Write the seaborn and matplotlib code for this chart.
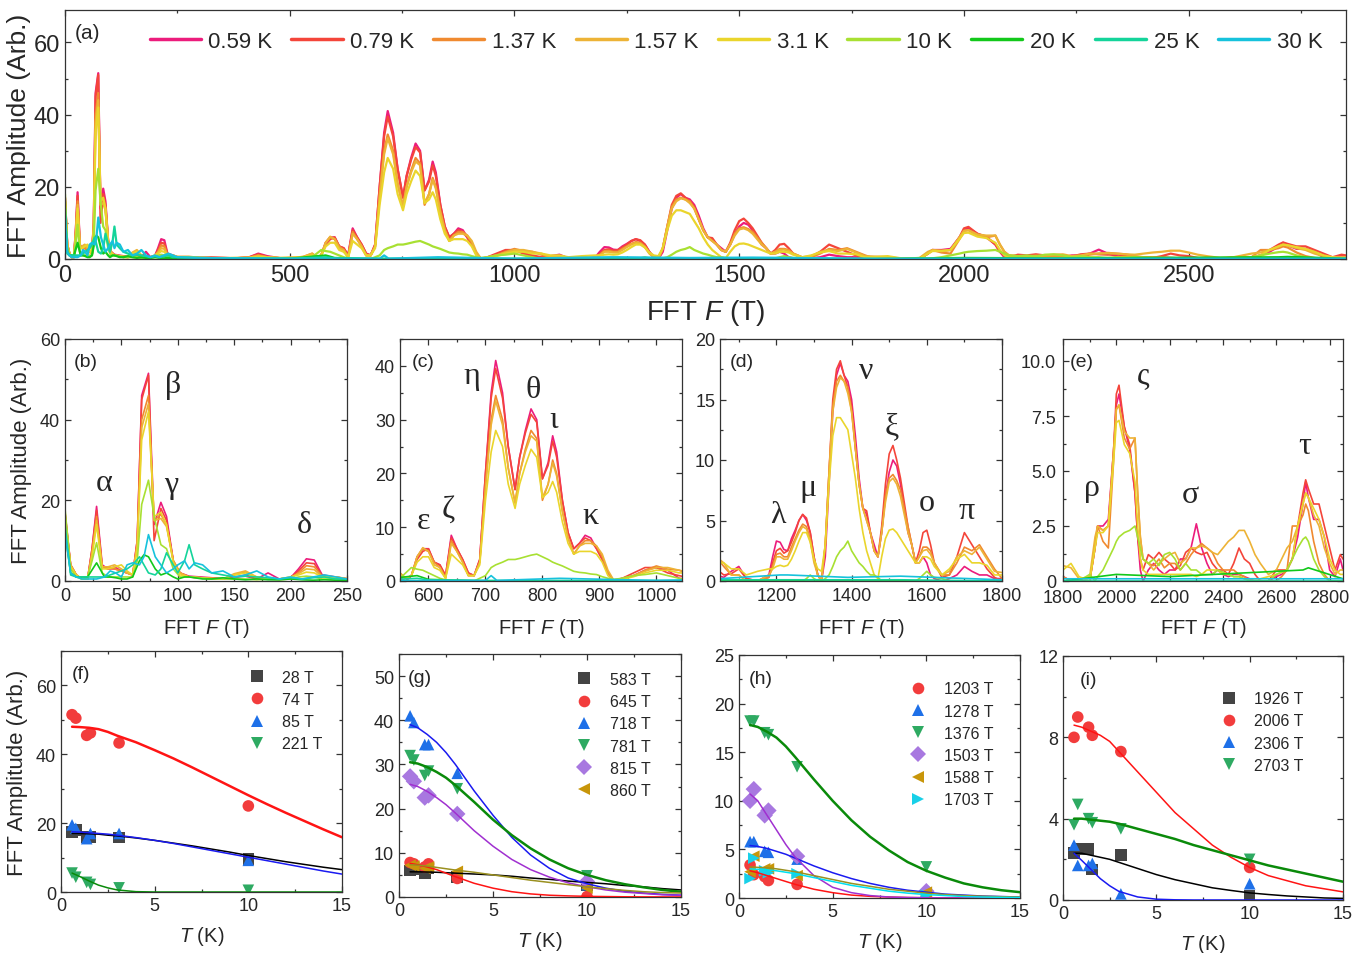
import numpy as np
import pandas as pd
import seaborn as sns
import matplotlib.pyplot as plt
from matplotlib.ticker import MultipleLocator, AutoMinorLocator, FuncFormatter

sns.set_theme(style="ticks")
plt.rcParams["font.family"] = ["Liberation Sans", "DejaVu Sans"]
plt.rcParams["mathtext.fontset"] = "custom"
plt.rcParams["mathtext.rm"] = "Liberation Sans"
plt.rcParams["mathtext.it"] = "Liberation Sans:italic"

# ---------------- spectra data ----------------
TEMPS = ["0.59 K", "0.79 K", "1.37 K", "1.57 K", "3.1 K", "10 K", "20 K", "25 K", "30 K"]
TEMP_COLORS = ["#EC1C7C", "#F4453A", "#F08A30", "#EDB336", "#EAD52C",
               "#A8E032", "#12C81A", "#14D49A", "#16C2DC"]

F_B = [0, 5, 10, 15, 20, 24, 28, 33, 38, 44, 50, 55, 60, 64, 68, 74, 79, 85, 90, 96, 102,
       110, 120, 130, 140, 150, 160, 170, 180, 190, 200, 207, 214, 221, 228, 240, 250]
F_GAP = [275, 300, 325, 350, 380, 410, 430, 450, 480, 510, 530]
F_C = [550, 560, 570, 580, 590, 600, 610, 620, 630, 640, 650, 660, 670, 680, 690, 700, 710,
       718, 730, 740, 752, 760, 770, 780, 790, 800, 810, 818, 825, 835, 845, 855, 865, 875,
       885, 895, 905, 915, 925, 940, 960, 980, 1000, 1020, 1040]
F_D = [1060, 1080, 1100, 1120, 1150, 1180] + list(range(1190, 1621, 10)) + \
      [1640, 1660, 1680, 1700, 1720, 1740, 1760, 1780]
F_E = [1800, 1830, 1860, 1900, 1920, 1930, 1950, 1970, 1990, 2000, 2010, 2030, 2050, 2070,
       2080, 2090, 2100] + list(range(2120, 2541, 20)) + \
      [2570, 2600, 2620, 2640, 2660, 2680, 2700, 2710, 2720, 2740, 2760, 2780, 2800, 2820,
       2840, 2850]

AMP_B = {
    "0.59 K": [17, 4, 1.5, 0.5, 0.5, 8, 18.5, 4, 3, 3.5, 2.5, 2, 1.5, 10, 46, 51.5, 14, 19.5, 16, 5, 2,
               1.2, 1, 0.8, 0.6, 1, 1.2, 0.5, 2, 0.5, 0.8, 3, 5.5, 5.2, 1.5, 1, 0.5],
    "0.79 K": [17, 4, 1.5, 0.5, 0.5, 8, 17.5, 3.5, 3, 3, 2.5, 2, 1.5, 10, 45, 51, 10, 18, 15, 5, 2,
               1, 0.8, 0.7, 0.5, 0.8, 1.5, 0.5, 0.5, 0.5, 0.8, 2.5, 4.5, 4.3, 1.3, 0.8, 0.5],
    "1.37 K": [16, 4, 1.5, 0.5, 0.5, 7, 16, 3.5, 3.5, 3, 2.5, 2, 1.5, 9, 40, 46, 15, 16.5, 14, 5, 2,
               1, 0.8, 0.7, 0.5, 1.5, 2.2, 0.8, 0.5, 0.5, 0.8, 2, 3.8, 3.5, 1.2, 1, 0.6],
    "1.57 K": [16, 4, 1.5, 0.5, 0.5, 7, 15, 3.5, 3.5, 4, 3, 2, 1.5, 9, 38, 44, 15, 15.5, 13.5, 5, 2,
               1, 0.8, 0.7, 0.5, 1.8, 2.5, 1, 0.5, 0.5, 1, 1.8, 3, 2.8, 1, 1, 0.6],
    "3.1 K": [16, 3.5, 1.5, 0.5, 0.5, 6, 14, 3, 3, 3.5, 4, 2.5, 1.5, 8, 35, 42, 16, 17, 14, 4.5, 1.5,
              1, 0.8, 0.5, 0.5, 1.5, 2, 1, 0.5, 0.5, 1, 1.5, 2.2, 2, 1, 0.8, 0.5],
    "10 K": [18, 3, 1, 0.5, 1, 5, 9.5, 2, 1, 1, 1, 1, 1, 5, 19, 25, 16, 9, 8, 3, 1,
             1, 0.8, 0.5, 0.5, 0.5, 0.5, 0.3, 0.5, 0.3, 0.5, 1, 1.2, 1, 0.5, 0.5, 0.3],
}
AMP_GAP = {
    "0.59 K": [0.5, 0.3, 0.5, 0.3, 0.2, 0.5, 1.5, 0.8, 0.2, 0.3, 0.5],
    "0.79 K": [0.5, 0.3, 0.3, 0.3, 0.2, 0.5, 1.3, 0.6, 0.2, 0.3, 0.5],
    "1.37 K": [0.6, 0.4, 0.3, 0.3, 0.2, 0.4, 1.0, 0.5, 0.2, 0.3, 0.6],
    "1.57 K": [0.6, 0.4, 0.3, 0.3, 0.3, 0.4, 0.9, 0.5, 0.3, 0.4, 0.6],
    "3.1 K": [0.5, 0.3, 0.3, 0.2, 0.3, 0.3, 0.6, 0.4, 0.3, 0.4, 0.5],
    "10 K": [0.3, 0.2, 0.2, 0.2, 0.1, 0.2, 0.3, 0.2, 0.1, 0.2, 0.3],
}
AMP_C = {
    "0.59 K": [0.5, 0, 1, 4.5, 6, 6, 3.5, 3, 1, 8.5, 6, 4, 1.5, 1, 4, 20, 35, 41, 35, 25, 17, 23, 28,
               32, 30, 19, 22, 27, 24, 15, 9, 6, 7, 8.5, 8, 6, 4, 1.5, 0, 0.5, 1, 2, 2.5, 2, 0.5],
    "0.79 K": [0.5, 0, 1, 4, 5.5, 6, 3.5, 3, 1, 8, 6, 4, 1.5, 1, 4, 20, 34, 39.5, 34, 25, 17, 23, 27.5,
               31, 29.5, 19, 21.5, 26, 23, 15, 9, 6, 7, 8, 7.5, 6, 4, 1.5, 0, 0.5, 1.5, 2.5, 2.5, 1.5, 1],
    "1.37 K": [1.5, 0.5, 1, 4.5, 6, 5.5, 3.5, 2.5, 0.5, 7.5, 5.5, 3.5, 1, 1, 3.5, 18, 30, 34.5, 30, 21,
               14.5, 20, 24.5, 28, 26.5, 15, 18, 22.5, 20, 13, 8, 5, 6.5, 7.5, 7.5, 6.5, 4.5, 1.5, 0,
               0.3, 1, 2, 2.8, 2.2, 2],
    "1.57 K": [1.5, 0.5, 1, 4.5, 6.2, 5.5, 3, 2.5, 0.5, 7, 5.5, 3.5, 1, 1, 3.5, 17, 29, 33.5, 29, 21,
               14.5, 20, 24, 27, 26, 15.5, 18, 22, 19.5, 13, 8, 5, 6.5, 7, 7, 6.5, 5, 2, 0.2,
               0.5, 1, 1.8, 2.5, 2.5, 2],
    "3.1 K": [1, 0.5, 1, 3.5, 4.5, 4.5, 2.5, 2, 0.5, 5, 4, 3, 1, 1, 3, 15, 24, 28, 25, 18, 13.5, 18,
              21.5, 24.5, 23, 15.5, 16.5, 18.5, 16.5, 11, 7, 5, 5.5, 5.5, 5.5, 5, 3.5, 1, 0,
              0.3, 0.8, 1.5, 2, 2, 1.5],
    "10 K": [0.5, 1.5, 2.5, 2.2, 2, 1.5, 1, 0.5, 0.2, 0, 0, 0, 0, 0, 0.5, 1, 2.5, 3, 3.5, 4, 4, 4.2,
             4.5, 4.8, 5, 4.5, 4, 3.5, 3.2, 2.8, 2.3, 1.8, 1.6, 1.5, 1.3, 1.2, 0.8, 0.5, 0.3,
             0.5, 1, 1.2, 1.5, 1, 0.5],
}
AMP_D = {
    "0.59 K": [0.3, 0.8, 1.2, 0.2, 0, 0.5,
               2, 3.3, 3.2, 2.6, 2.5, 3.5, 4.2, 5, 5.5, 5, 4, 2, 0.5, 0, 2, 8, 14, 17, 18, 17,
               16.5, 15, 12, 8.5, 6, 5.5, 4, 3, 2, 4, 7, 9, 10, 9.5, 8, 6, 4, 3, 1.5, 1.5,
               2, 1.5, 0.5, 0.2,
               0, 0.2, 0.5, 1.2, 0.8, 0.5, 0.5, 0.2],
    "0.79 K": [0.5, 0.6, 1, 0.2, 0, 0.3,
               1.5, 2.5, 2.7, 2.3, 2.5, 3.2, 4, 5, 5.5, 5.2, 4, 2, 0.5, 0, 3, 9, 15, 17.5, 18.2, 17,
               16, 14.5, 11, 8, 6, 5.8, 4, 2.5, 2, 4.5, 8, 10.5, 11.2, 10, 8.5, 6.5, 4.5, 3, 1.5, 2.5,
               4, 4.2, 3, 1.5,
               0.3, 0.5, 2, 4, 3, 2, 1, 0.3],
    "1.37 K": [1.2, 0.5, 0.5, 0, 0, 0.3,
               1.2, 2.2, 2.3, 2, 2, 2.8, 3.5, 4.2, 4.7, 4.5, 3.5, 1.8, 0.5, 0, 3, 9, 14.5, 16.5, 17, 16.5,
               16, 14, 11, 8, 6, 5, 4, 2.5, 2, 4, 7, 8.5, 8.8, 8.3, 7.5, 6, 4.5, 3, 1.5, 2,
               2.8, 2.8, 2.5, 1.5,
               0.5, 0.5, 1.5, 2.8, 2.5, 3, 2, 1],
    "1.57 K": [1.5, 0.5, 0.5, 0, 0, 0.5,
               1, 2, 2, 1.8, 1.8, 2.5, 3.3, 4, 4.5, 4.3, 3.3, 1.5, 0.5, 0, 3, 9, 14, 16, 16.8, 16.5,
               15.5, 14, 11, 8, 6, 5, 4, 2.5, 2, 4, 6.5, 8.2, 8.5, 8, 7, 5.5, 4, 3, 1.5, 2,
               2.5, 2.6, 2.2, 1.5,
               0.5, 0.8, 2, 2.5, 2.2, 2.8, 1.8, 0.8],
    "3.1 K": [1.5, 1.0, 1.0, 0.5, 0.8, 1.0,
              1, 1.2, 1.3, 1.2, 1.3, 1.8, 2.5, 3.3, 4, 4, 3.2, 1.8, 1, 0.8, 3, 8, 12, 13.5, 13.5, 13,
              12.5, 10.5, 8.5, 6, 4, 2.5, 1.5, 0.5, 0.2, 2, 3.5, 4.2, 4.3, 4, 3.5, 3, 2.5, 2, 1.5, 1.5,
              2, 2, 1.8, 1.2,
              0.5, 1, 1.8, 2.2, 1.5, 1.5, 1.3, 0.5],
    "10 K": [0, 0, 0, 0, 0, 0,
             0, 0, 0, 0, 0, 0, 0, 0, 0, 0.2, 0.5, 0.2, 0, 0, 0.2, 0.5, 1.2, 2, 2.5, 2.8,
             3.3, 2.5, 2, 1.5, 1.2, 0.8, 0.5, 0.5, 0.3, 0, 0, 0, 0, 0, 0, 0, 0, 0, 0, 0.2,
             0.5, 0.8, 0.5, 0.3,
             0.2, 0, 0, 0, 0, 0, 0, 0],
}
AMP_E = {
    "0.59 K": [0.2, 0, 0, 0, 1.5, 2.5, 2.5, 2.8, 6,
               8, 8.5, 7, 6, 4, 2, 0.5, 0,
               0.5, 0.8, 0.5, 0.3, 0.5, 0.5, 1, 1, 1.5, 2.6, 1.5, 0.8, 0.3, 0.5, 0.3, 0.2, 0.3, 0.3,
               0.2, 0.1, 0, 0,
               0, 0.2, 0.3, 0.5, 1, 2, 3.5, 4.5, 3.8, 2.8, 2.8, 2, 0.5, 0.2, 1, 0.5],
    "0.79 K": [0, 0, 0, 0, 1.5, 2.5, 2.3, 2.5, 6,
               8.5, 8.9, 7, 6.2, 4, 2, 1, 0.5,
               1.2, 1, 1.3, 1, 0.8, 0.5, 0.7, 1.3, 1.5, 1.3, 1.2, 1.3, 0.8, 0.5, 0.5, 0.3, 0.8, 1.5,
               1, 0.8, 0.3, 0,
               0, 0.5, 0.5, 0.5, 1, 2.5, 4, 4.6, 4.2, 3.5, 3.5, 2.5, 1.5, 0.5, 1.2, 1],
    "1.37 K": [0.2, 0, 0, 0, 1.5, 2.5, 1.8, 1.5, 5.5,
               7.8, 8, 6.5, 6, 6.5, 4, 2, 1,
               0.8, 0.7, 1, 0.6, 0.8, 0.8, 0.5, 0.8, 1.2, 1.5, 1.7, 1.5, 1.3, 0.8, 0.5, 0.5, 0.5, 0.3,
               0.2, 0, 0, 0,
               0, 0, 0.2, 0.5, 2.5, 2.5, 3, 3.5, 3.2, 1.8, 0.8, 0.3, 0, 0, 0, 0],
    "1.57 K": [0.7, 0.6, 0.1, 0.2, 2, 2.5, 2.3, 2.5, 6,
               7.8, 8, 6.8, 6.5, 6.5, 4, 2, 1,
               0.8, 0.5, 0.8, 1, 1.2, 1.3, 0.8, 1, 1.5, 1.5, 1.6, 1.5, 1.3, 1.2, 1.5, 1.8, 2, 2.3,
               2.3, 1.8, 1.2, 0.8,
               0.3, 0.5, 1, 1.5, 1.8, 2.5, 3.5, 4, 3.8, 3, 2.5, 1.5, 0.8, 0.3, 0.5, 0.5],
    "3.1 K": [0.5, 0.8, 0.2, 0, 1.5, 2.2, 2.2, 2.5, 5.5,
              7.2, 7.3, 6.2, 5.8, 4.5, 2.5, 1, 0.5,
              0.3, 0.3, 0.3, 0.3, 0.3, 0.3, 0.3, 0.3, 0.3, 0.2, 0.3, 0.5, 0.5, 0.5, 0.3, 0.3, 0.2, 0.2,
              0.1, 0.1, 0.1, 0.1,
              0.2, 0.3, 0.4, 0.5, 1, 2.5, 3.5, 4, 3.8, 3.3, 2.8, 2, 1, 0.5, 0.3, 0.3],
    "10 K": [0, 0, 0, 0.3, 0, 0.2, 0.5, 1, 1.5,
             1.8, 2, 2.2, 2.3, 2.5, 2, 1.5, 1,
             0.8, 1, 0.7, 1.2, 1.3, 1, 0.5, 0.8, 0.5, 0.5, 0.3, 0.3, 0.3, 0.5, 0.4, 0.3, 0.2, 0.2,
             0.1, 0, 0, 0,
             0, 0.3, 0.4, 0.5, 1, 1.5, 1.9, 2, 1.8, 1, 0.5, 0.2, 0, 0, 0, 0],
}

F_HI = [0, 5, 10, 15, 20, 28, 35, 40, 45, 50, 55, 60, 66, 70, 74, 80, 85, 90, 96, 100, 106, 110,
        115, 122, 130, 140, 150, 160, 170, 180, 190, 200, 210, 220, 230, 240, 250, 300, 350, 400,
        500, 580, 600, 700, 710, 720, 830, 1000, 1210, 1230, 1390, 1530, 1800, 2000, 2200, 2700,
        2720, 2850]
AMP_HI = {
    "20 K": [12, 2, 1, 1, 1, 4.5, 1, 1, 0.8, 0.5, 0.5, 1, 5, 6.5, 6, 3, 1.5, 2, 1, 0.5, 1, 1,
             0.8, 0.5, 0.5, 0.8, 0.5, 0.3, 0.5, 0.3, 0.3, 0.5, 0.3, 0.2, 0.3, 0.2, 0.2, 0.2, 0.1, 0.1,
             0.1, 1, 0.3, 0, 0, 0, 0, 0, 0, 0, 0, 0, 0, 0.3, 0.2, 0.5, 0.6, 0.1],
    "25 K": [14, 1.5, 1, 1, 1, 1, 1, 1.5, 2, 2.5, 3, 4, 6, 4, 2, 1.5, 3, 7, 4, 2, 5, 9,
             4, 3, 2, 1.5, 1, 1.2, 1, 0.8, 0.5, 0.8, 0.5, 0.8, 1, 0.5, 0.5, 0.3, 0.2, 0.2,
             0.1, 0.5, 0.2, 0.1, 0.1, 0.1, 0.1, 0.1, 0.1, 0.1, 0.1, 0.1, 0, 0, 0, 0, 0, 0],
    "30 K": [12, 2, 1, 0.5, 0.5, 0.5, 1, 2.5, 2, 1, 4, 4.5, 4, 6, 11.5, 6, 4, 2, 3, 4, 5, 3,
             4.5, 4, 2, 2.5, 1, 1.5, 2.5, 1, 0.5, 1, 0.5, 1, 1.5, 1, 0.5, 0.3, 0.2, 0.2,
             0.1, 0.1, 0.1, 0.1, 1, 0.1, 0.5, 0.1, 0.5, 0.5, 0.3, 0.4, 0.1, 0.1, 0.1, 0.1, 0.1, 0.1],
}

# ---------------- temperature dependence (panels f-i) ----------------
T_PTS = [0.59, 0.79, 1.37, 1.57, 3.1, 10]
T_FIT = [0.59, 1, 1.5, 2, 2.5, 3, 4, 5, 6, 7, 8, 9, 10, 11, 12, 13, 14, 15]

PTS_F = {"28 T": [17.5, 18, 16, 16, 15.8, 9.5],
         "74 T": [51.5, 50.5, 45.5, 46.2, 43.3, 25],
         "85 T": [19.5, 18.5, 15.5, 17, 17, 9.2],
         "221 T": [5.5, 4.3, 2.8, 2.2, 1.2, 0.5]}
FIT_F = {"28 T": [17, 17, 16.9, 16.8, 16.5, 16.3, 15.7, 15, 14.2, 13.4, 12.5, 11.6, 10.6, 9.7, 8.8, 8, 7.2, 6.5],
         "74 T": [48, 47.9, 47.7, 47.3, 46.5, 45.4, 43.5, 41.2, 38.8, 36.2, 33.5, 30.8, 28.1, 25.5, 23, 20.6, 18.2, 15.9],
         "85 T": [17.5, 17.4, 17.2, 17, 16.8, 16.5, 15.8, 15, 14.1, 13.1, 12.1, 11.1, 10.1, 9.1, 8.1, 7.1, 6.1, 5.2],
         "221 T": [5.5, 4.5, 3.2, 2, 1.2, 0.6, 0.1, 0, 0, 0, 0, 0, 0, 0, 0, 0, 0, 0]}

PTS_G = {"583 T": [6, 6.2, 5.3, 6.5, 4.5, 2.7],
         "645 T": [7.8, 7.5, 6.8, 7.5, 4.2, 0.1],
         "718 T": [41, 39.5, 34.5, 34.5, 28, 2.8],
         "781 T": [32, 31, 27.5, 28.5, 24.5, 4.8],
         "815 T": [27.3, 26.2, 22.5, 23, 18.8, 3.5],
         "860 T": [7.2, 7, 6.5, 6.8, 5.8, 2]}
FIT_G = {"583 T": [5.7, 5.7, 5.65, 5.6, 5.5, 5.4, 5.2, 5, 4.7, 4.3, 4, 3.6, 3.3, 3, 2.6, 2.3, 1.9, 1.6],
         "645 T": [7.6, 7.3, 6.8, 6.2, 5.4, 4.6, 3.1, 2, 1.2, 0.7, 0.4, 0.25, 0.15, 0.1, 0.05, 0.03, 0.02, 0],
         "718 T": [39, 38.3, 36.8, 35, 32.7, 30, 24, 18.5, 13.5, 9.5, 6.5, 4.3, 3, 2, 1.3, 0.9, 0.6, 0.4],
         "781 T": [30.5, 30.2, 29.4, 28.3, 27, 25.3, 21.5, 17.5, 14, 11, 8.5, 6.5, 5, 3.8, 2.9, 2.2, 1.6, 1.2],
         "815 T": [25.5, 25, 23.9, 22.5, 20.9, 19, 15, 11.5, 8.5, 6.2, 4.5, 3.2, 2.3, 1.6, 1.1, 0.8, 0.5, 0.4],
         "860 T": [7.3, 7.2, 7, 6.7, 6.4, 6.1, 5.6, 5, 4.4, 3.8, 3.3, 2.8, 2.3, 1.9, 1.5, 1.2, 1, 0.9]}

PTS_H = {"1203 T": [3.4, 2.4, 2.2, 1.8, 1.4, 0.1],
         "1278 T": [5.8, 5.8, 4.8, 4.7, 4, 0.3],
         "1376 T": [18.2, 18.2, 17, 16.8, 13.5, 3.2],
         "1503 T": [10, 11.2, 8.5, 9, 4.3, 0.7],
         "1588 T": [2.7, 4.3, 3, 3, 2.3, 0.6],
         "1703 T": [2, 4.1, 2.8, 2.6, 2.5, 0.3]}
FIT_H = {"1203 T": [2.8, 2.6, 2.3, 2, 1.7, 1.4, 0.9, 0.55, 0.3, 0.17, 0.1, 0.05, 0.03, 0.02, 0.01, 0, 0, 0],
         "1278 T": [5.4, 5.3, 5.1, 4.8, 4.5, 4.1, 3.3, 2.6, 2, 1.5, 1.1, 0.8, 0.6, 0.4, 0.3, 0.2, 0.15, 0.1],
         "1376 T": [17.8, 17.6, 17.1, 16.5, 15.6, 14.5, 12.2, 10, 8, 6.3, 4.9, 3.7, 2.8, 2.1, 1.5, 1.1, 0.8, 0.6],
         "1503 T": [10.7, 10, 8.5, 7, 5.5, 4.2, 2.3, 1.1, 0.55, 0.25, 0.1, 0.05, 0.02, 0, 0, 0, 0, 0],
         "1588 T": [3.2, 3.15, 3.1, 3, 2.85, 2.7, 2.3, 1.9, 1.5, 1.2, 0.9, 0.7, 0.5, 0.35, 0.25, 0.18, 0.13, 0.1],
         "1703 T": [3, 2.95, 2.9, 2.8, 2.65, 2.5, 2.1, 1.7, 1.3, 1, 0.7, 0.5, 0.35, 0.25, 0.15, 0.1, 0.07, 0.05]}

PTS_I = {"1926 T": [2.3, 2.5, 2.5, 1.5, 2.2, 0.2],
         "2006 T": [8, 9, 8.5, 8.1, 7.3, 1.6],
         "2306 T": [2.7, 1.7, 1.7, 1.8, 0.3, 0.8],
         "2703 T": [3.7, 4.7, 4, 3.8, 3.5, 2]}
FIT_I = {"1926 T": [2.3, 2.3, 2.2, 2.1, 2, 1.85, 1.55, 1.25, 1, 0.8, 0.6, 0.47, 0.35, 0.27, 0.2, 0.15, 0.1, 0.08],
         "2006 T": [8.6, 8.5, 8.3, 8.1, 7.8, 7.3, 6.3, 5.3, 4.3, 3.5, 2.7, 2.1, 1.6, 1.2, 0.95, 0.7, 0.55, 0.4],
         "2306 T": [2.3, 1.95, 1.5, 1.05, 0.7, 0.42, 0.15, 0.04, 0.01, 0, 0, 0, 0, 0, 0, 0, 0, 0],
         "2703 T": [4, 4, 3.95, 3.9, 3.85, 3.75, 3.5, 3.25, 3, 2.7, 2.45, 2.2, 1.95, 1.7, 1.5, 1.3, 1.1, 0.9]}

# marker style / point colour / fit colour per frequency slot
SLOT = {"sq": ("s", "#444444", "black"), "ci": ("o", "#F23C3C", "#FF1414"),
        "up": ("^", "#1E70E8", "#1A1AF0"), "dn": ("v", "#2EAA62", "#0A8A0A"),
        "di": ("D", "#A878E0", "#A030D0"), "lt": ("<", "#C8960A", "#9A9020"),
        "rt": (">", "#18D0E8", "#00E0F0")}
SLOTS_F = ["sq", "ci", "up", "dn"]
SLOTS_G = ["sq", "ci", "up", "dn", "di", "lt"]
SLOTS_H = ["ci", "up", "dn", "di", "lt", "rt"]
SLOTS_I = ["sq", "ci", "up", "dn"]

# ---------------- build frames ----------------
main_grid = F_B + F_GAP + F_C + F_D + F_E
parts = []
for t in TEMPS[:6]:
    amps = AMP_B[t] + AMP_GAP[t] + AMP_C[t] + AMP_D[t] + AMP_E[t]
    parts.append(pd.DataFrame({"F": main_grid, "amp": amps, "T": t}))
for t in TEMPS[6:]:
    parts.append(pd.DataFrame({"F": F_HI, "amp": AMP_HI[t], "T": t}))
spec = pd.concat(parts, ignore_index=True)
pal = dict(zip(TEMPS, TEMP_COLORS))

W, H = 1365, 954
fig = plt.figure(figsize=(W / 100, H / 100), dpi=100)


def px_axes(l, t, r, b):
    return fig.add_axes([l / W, 1 - b / H, (r - l) / W, (b - t) / H])


def style_axes(ax, fs):
    ax.tick_params(which="both", direction="in", top=True, right=True, labelsize=fs,
                   color="#333333", width=0.9)
    ax.tick_params(which="major", length=4)
    ax.tick_params(which="minor", length=2.5)
    for s in ax.spines.values():
        s.set_color("#333333")
        s.set_linewidth(0.9)


ITAL_F = "FFT $F$ (T)"
YLAB = "FFT Amplitude (Arb.)"
GREEK = ["Liberation Serif", "DejaVu Serif"]

# ---- panel (a)
ax = px_axes(65, 11, 1346, 260)
sns.lineplot(data=spec, x="F", y="amp", hue="T", hue_order=TEMPS, palette=pal,
             estimator=None, sort=False, lw=1.6, ax=ax)
ax.set_xlim(0, 2850)
ax.set_ylim(0, 69)
ax.xaxis.set_major_locator(MultipleLocator(500))
ax.xaxis.set_minor_locator(MultipleLocator(250))
ax.yaxis.set_major_locator(MultipleLocator(20))
ax.yaxis.set_minor_locator(MultipleLocator(10))
style_axes(ax, 17)
ax.set_xlabel(ITAL_F, fontsize=20, labelpad=8)
ax.set_ylabel(YLAB, fontsize=19, labelpad=2)
h, l = ax.get_legend_handles_labels()
leg = ax.legend(h, l, ncol=9, loc="center left", bbox_to_anchor=(0.066, 0.875),
                frameon=False, fontsize=16, handlelength=2.3, handletextpad=0.35,
                columnspacing=0.85, borderpad=0, borderaxespad=0)
for ln in leg.get_lines():
    ln.set_linewidth(2.5)
ax.text(0.008, 0.91, "(a)", transform=ax.transAxes, fontsize=15, va="center")

# ---- panels (b)-(e)
zoom_specs = [
    ("(b)", (65, 340, 347, 582), (0, 250), (0, 60), 50, 25, 20, 10, 0.032,
     [("α", 35, 24.5), ("β", 96, 48.8), ("γ", 94, 24), ("δ", 212, 14)]),
    ("(c)", (400, 340, 682, 582), (550, 1045), (0, 45), 100, 50, 10, 5, 0.04,
     [("ε", 591, 11.2), ("ζ", 635, 13.3), ("η", 676, 38.2), ("θ", 784, 35.7),
      ("ι", 819, 30.1), ("κ", 884, 12.1)]),
    ("(d)", (720, 340, 1002, 582), (1050, 1800), (0, 20), 200, 100, 5, 2.5, 0.036,
     [("λ", 1205, 5.5), ("μ", 1285, 7.7), ("ν", 1440, 17.4), ("ξ", 1507, 12.8),
      ("ο", 1600, 6.5), ("π", 1707, 5.8)]),
    ("(e)", (1063, 340, 1343, 582), (1800, 2850), (0, 11), 200, 100, 2.5, 1.25, 0.025,
     [("ρ", 1908, 4.25), ("ς", 2101, 9.4), ("σ", 2276, 3.95), ("τ", 2707, 6.15)]),
]
for tag, rect, xl, yl, xmaj, xmin, ymaj, ymin, tx, greek in zoom_specs:
    ax = px_axes(*rect)
    sns.lineplot(data=spec, x="F", y="amp", hue="T", hue_order=TEMPS, palette=pal,
                 estimator=None, sort=False, lw=1.2, legend=False, ax=ax)
    ax.set_xlim(*xl)
    ax.set_ylim(*yl)
    ax.xaxis.set_major_locator(MultipleLocator(xmaj))
    ax.xaxis.set_minor_locator(MultipleLocator(xmin))
    ax.yaxis.set_major_locator(MultipleLocator(ymaj))
    ax.yaxis.set_minor_locator(MultipleLocator(ymin))
    style_axes(ax, 13)
    if tag == "(e)":
        ax.yaxis.set_major_formatter(FuncFormatter(lambda v, p: "0" if v == 0 else f"{v:.1f}"))
        ax.tick_params(axis="x", pad=6)
        ax.tick_params(axis="y", pad=5)
        ax.set_xlabel(ITAL_F, fontsize=14.5, labelpad=7)
    else:
        ax.tick_params(axis="x", pad=4)
        ax.set_xlabel(ITAL_F, fontsize=14.5, labelpad=9)
    ax.set_ylabel(YLAB if tag == "(b)" else "", fontsize=16, labelpad=6)
    ax.text(tx, 0.905, tag, transform=ax.transAxes, fontsize=14, va="center")
    for g, gx, gy in greek:
        ax.text(gx, gy, g, fontsize=23, family=GREEK, ha="center", va="center")

# ---- panels (f)-(i)
temp_specs = [
    ("(f)", (61, 652, 342, 893), (0, 70), 20, 10, PTS_F, FIT_F, SLOTS_F, 0.04, (0.64, 0.922)),
    ("(g)", (399, 655, 681, 898), (0, 55), 10, 5, PTS_G, FIT_G, SLOTS_G, 0.03, (0.60, 0.926)),
    ("(h)", (739, 656, 1020, 899), (0, 25), 5, 2.5, PTS_H, FIT_H, SLOTS_H, 0.036, (0.58, 0.891)),
    ("(i)", (1063, 657, 1343, 901), (0, 12), 4, 2, PTS_I, FIT_I, SLOTS_I, 0.06, (0.535, 0.856)),
]
for tag, rect, yl, ymaj, ymin, pts, fits, slots, tx, lpos in temp_specs:
    ax = px_axes(*rect)
    names = list(pts.keys())
    marks = {n: SLOT[s][0] for n, s in zip(names, slots)}
    pcols = {n: SLOT[s][1] for n, s in zip(names, slots)}
    fcols = {n: SLOT[s][2] for n, s in zip(names, slots)}
    dp = pd.concat([pd.DataFrame({"T": T_PTS, "amp": pts[n], "freq": n}) for n in names],
                   ignore_index=True)
    df = pd.concat([pd.DataFrame({"T": T_FIT, "amp": fits[n], "freq": n}) for n in names],
                   ignore_index=True)
    sns.scatterplot(data=dp, x="T", y="amp", hue="freq", style="freq", hue_order=names,
                    style_order=names, palette=pcols, markers=marks, s=70, linewidth=0,
                    ax=ax, zorder=3)
    for n in names:
        thick = 1.8 if (fcols[n] == "#0A8A0A" and tag != "(f)") or (tag == "(f)" and n == "74 T") else 1.1
        sns.lineplot(data=df[df["freq"] == n], x="T", y="amp", color=fcols[n], lw=thick,
                     estimator=None, sort=False, legend=False, ax=ax, zorder=4)
    ax.set_xlim(0, 15)
    ax.set_ylim(*yl)
    ax.xaxis.set_major_locator(MultipleLocator(5))
    ax.xaxis.set_minor_locator(MultipleLocator(2.5))
    ax.yaxis.set_major_locator(MultipleLocator(ymaj))
    ax.yaxis.set_minor_locator(MultipleLocator(ymin))
    style_axes(ax, 13)
    ax.set_xlabel("$T$ (K)", fontsize=14.5, labelpad=7)
    ax.set_ylabel(YLAB if tag == "(f)" else "", fontsize=16, labelpad=6)
    h, l = ax.get_legend_handles_labels()
    ax.legend(h, l, loc="upper left", bbox_to_anchor=lpos, frameon=False, fontsize=11.5,
              handletextpad=0.6, labelspacing=0.45, borderpad=0, borderaxespad=0)
    ax.text(tx, 0.905, tag, transform=ax.transAxes, fontsize=14, va="center")

fig.savefig("out.png", dpi=100)
